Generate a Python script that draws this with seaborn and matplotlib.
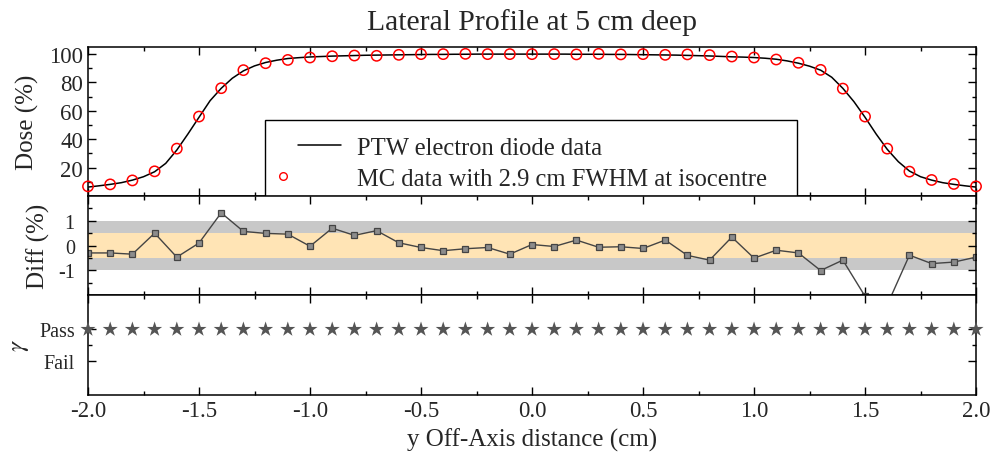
import numpy as np
import pandas as pd
import matplotlib
matplotlib.use("Agg")
import matplotlib.pyplot as plt
import seaborn as sns
from matplotlib.lines import Line2D
from matplotlib.patches import Rectangle
from matplotlib.legend_handler import HandlerBase
from matplotlib.ticker import MultipleLocator, FixedLocator, FormatStrFormatter

# ---------------- data ----------------
ptw_x = [-2.00, -1.95, -1.90, -1.85, -1.80, -1.75, -1.70, -1.65, -1.60, -1.55,
         -1.50, -1.45, -1.40, -1.35, -1.30, -1.25, -1.20, -1.15, -1.10, -1.05,
         -1.00, -0.95, -0.90, -0.85, -0.80, -0.75, -0.70, -0.65, -0.60, -0.55,
         -0.50, -0.45, -0.40, -0.35, -0.30, -0.25, -0.20, -0.15, -0.10, -0.05,
         0.00, 0.05, 0.10, 0.15, 0.20, 0.25, 0.30, 0.35, 0.40, 0.45,
         0.50, 0.55, 0.60, 0.65, 0.70, 0.75, 0.80, 0.85, 0.90, 0.95,
         1.00, 1.05, 1.10, 1.15, 1.20, 1.25, 1.30, 1.35, 1.40, 1.45,
         1.50, 1.55, 1.60, 1.65, 1.70, 1.75, 1.80, 1.85, 1.90, 1.95, 2.00]
ptw_dose = [6.3, 7.2, 8.2, 9.4, 11.2, 13.6, 17.1, 23.0, 32.4, 43.7,
            55.5, 67.2, 75.9, 83.0, 88.2, 91.7, 94.1, 95.7, 96.9, 97.5,
            98.0, 98.3, 98.6, 98.8, 99.0, 99.2, 99.3, 99.4, 99.5, 99.6,
            99.7, 99.8, 99.8, 99.9, 99.9, 100.0, 100.0, 100.0, 100.0, 100.0,
            100.0, 100.0, 100.0, 100.0, 99.9, 99.9, 99.9, 99.8, 99.8, 99.7,
            99.6, 99.5, 99.4, 99.3, 99.1, 98.9, 98.7, 98.4, 98.1, 97.9,
            97.6, 97.1, 96.4, 95.2, 93.6, 91.5, 88.7, 83.7, 75.9, 66.5,
            55.5, 43.7, 32.9, 24.2, 17.6, 13.6, 11.2, 9.4, 8.2, 7.2, 6.3]

mc_x = [-2.0, -1.9, -1.8, -1.7, -1.6, -1.5, -1.4, -1.3, -1.2, -1.1,
        -1.0, -0.9, -0.8, -0.7, -0.6, -0.5, -0.4, -0.3, -0.2, -0.1,
        0.0, 0.1, 0.2, 0.3, 0.4, 0.5, 0.6, 0.7, 0.8, 0.9,
        1.0, 1.1, 1.2, 1.3, 1.4, 1.5, 1.6, 1.7, 1.8, 1.9, 2.0]
mc_dose = [6.8, 8.2, 11.0, 17.4, 33.4, 56.0, 76.0, 88.7, 93.6, 95.9,
           97.6, 98.5, 99.0, 98.8, 99.5, 100.0, 100.0, 100.2, 100.0, 100.0,
           100.0, 100.0, 99.8, 100.2, 99.8, 100.0, 99.5, 99.8, 99.3, 98.3,
           97.6, 96.2, 93.9, 88.9, 75.7, 56.0, 33.4, 17.2, 11.3, 8.5, 6.8]
diff = [-0.30, -0.30, -0.35, 0.50, -0.47, 0.10, 1.32, 0.57, 0.49, 0.46,
        -0.03, 0.70, 0.41, 0.60, 0.11, -0.08, -0.21, -0.13, -0.08, -0.35,
        0.04, -0.04, 0.22, -0.07, -0.05, -0.12, 0.22, -0.40, -0.59, 0.34,
        -0.51, -0.19, -0.30, -1.01, -0.59, -2.05, -2.40, -0.39, -0.73, -0.67, -0.47]
gamma = [1, 1, 1, 1, 1, 1, 1, 1, 1, 1, 1, 1, 1, 1, 1, 1, 1, 1, 1, 1, 1,
         1, 1, 1, 1, 1, 1, 1, 1, 1, 1, 1, 1, 1, 1, 1, 1, 1, 1, 1, 1]
gamma_labels = ["Fail", "Pass"]
series_labels = ["PTW electron diode data", "MC data with 2.9 cm FWHM at isocentre"]

ptw_df = pd.DataFrame({"y": ptw_x, "dose": ptw_dose})
mc_df = pd.DataFrame({"y": mc_x, "dose": mc_dose, "diff": diff, "gamma": gamma})

# ---------------- style ----------------
sns.set_style("ticks")
plt.rcParams["font.family"] = ["Liberation Serif", "DejaVu Serif"]
plt.rcParams["mathtext.fontset"] = "stix"
plt.rcParams["axes.unicode_minus"] = False

fig = plt.figure(figsize=(9.91, 4.6), dpi=100)
L, W = 0.0888, 0.8961
ax1 = fig.add_axes([L, 0.5717, W, 0.3239])
ax2 = fig.add_axes([L, 0.3565, W, 0.2152], sharex=ax1)
ax3 = fig.add_axes([L, 0.1391, W, 0.2174], sharex=ax1)

# top: dose profile
sns.lineplot(data=ptw_df, x="y", y="dose", ax=ax1, color="black", lw=1.1,
             sort=False, legend=False)
sns.scatterplot(data=mc_df, x="y", y="dose", ax=ax1, marker="o", s=55,
                facecolor="none", edgecolor="red", linewidth=1.1,
                clip_on=False, zorder=5, legend=False)
ax1.set_ylim(0, 105)
ax1.yaxis.set_major_locator(FixedLocator([20, 40, 60, 80, 100]))
ax1.yaxis.set_minor_locator(FixedLocator([10, 30, 50, 70, 90]))
ax1.set_ylabel("Dose (%)", fontsize=18)
ax1.yaxis.set_label_coords(-0.055, 0.5)

# legend box (frame) + legend entries
box = Rectangle((0.199, 0.0), 0.599, 0.51, transform=ax1.transAxes,
                facecolor="white", edgecolor="black", lw=1.0, zorder=8,
                clip_on=False)
ax1.add_patch(box)


class LeftMarkerHandler(HandlerBase):
    def create_artists(self, legend, orig_handle, xdescent, ydescent,
                       width, height, fontsize, trans):
        m = Line2D([-xdescent - 0.6 * fontsize], [(height - ydescent) / 2],
                   ls="none", marker="o", ms=5.5, mfc="none", mec="red",
                   mew=1.0, transform=trans)
        return [m]


h_line = Line2D([], [], color="black", lw=1.1)
h_circ = Line2D([], [], ls="none", marker="o", ms=5.5, mfc="none", mec="red", mew=1.0)
leg = ax1.legend([h_line, h_circ], series_labels, loc="upper left",
                 bbox_to_anchor=(0.2365, 0.40), borderaxespad=0, borderpad=0,
                 fontsize=17.7, frameon=False, handlelength=1.75,
                 handletextpad=0.65, labelspacing=0.37,
                 handler_map={h_circ: LeftMarkerHandler()})
leg.set_zorder(10)

# middle: differences
ax2.axhspan(-1, 1, color="#c8c8c8", lw=0, zorder=0)
ax2.axhspan(-0.5, 0.5, color="#ffe4b5", lw=0, zorder=0)
sns.lineplot(data=mc_df, x="y", y="diff", ax=ax2, color="#444444", lw=1.0,
             marker="s", markersize=4, markerfacecolor="#8c8c8c",
             markeredgecolor="#444444", markeredgewidth=0.9, sort=False)
ax2.set_ylim(-2, 2)
ax2.yaxis.set_major_locator(FixedLocator([-1, 0, 1]))
ax2.yaxis.set_minor_locator(FixedLocator([-1.5, -0.5, 0.5, 1.5]))
ax2.set_ylabel("Diff (%)", fontsize=18)
ax2.yaxis.set_label_coords(-0.043, 0.5)

# bottom: gamma
sns.scatterplot(data=mc_df, x="y", y="gamma", ax=ax3, marker="*", s=130,
                color="#555555", edgecolor="none", clip_on=False, zorder=5)
ax3.set_ylim(-1.1, 2.1)
ax3.yaxis.set_major_locator(FixedLocator([0, 1]))
ax3.set_yticklabels(gamma_labels)
ax3.yaxis.set_minor_locator(FixedLocator([0.5]))
ax3.set_ylabel(r"$\gamma$", fontsize=18)
ax3.yaxis.set_label_coords(-0.064, 0.5)
ax3.set_xlabel("y Off-Axis distance (cm)", fontsize=18, labelpad=5)

ax1.set_xlim(-2, 2)
ax3.xaxis.set_major_locator(MultipleLocator(0.5))
ax3.xaxis.set_minor_locator(MultipleLocator(0.25))
ax3.xaxis.set_major_formatter(FormatStrFormatter("%.1f"))

for ax in (ax1, ax2, ax3):
    ax.tick_params(which="both", direction="in", top=True, right=True,
                   labelsize=16.5, width=1.0, color="black")
    ax.tick_params(which="major", length=6)
    ax.tick_params(which="minor", length=3)
    for sp in ax.spines.values():
        sp.set_linewidth(1.1)
        sp.set_color("black")
        sp.set_visible(True)
for ax in (ax2, ax3):
    ax.tick_params(axis="y", labelsize=14.5, pad=9.5)
ax1.tick_params(labelbottom=False)
ax2.tick_params(labelbottom=False)
ax1.set_xlabel("")
ax2.set_xlabel("")

fig.suptitle("Lateral Profile at 5 cm deep", fontsize=21.3, x=0.5368, y=0.950,
             va="center")
fig.savefig("out.png", dpi=100)
